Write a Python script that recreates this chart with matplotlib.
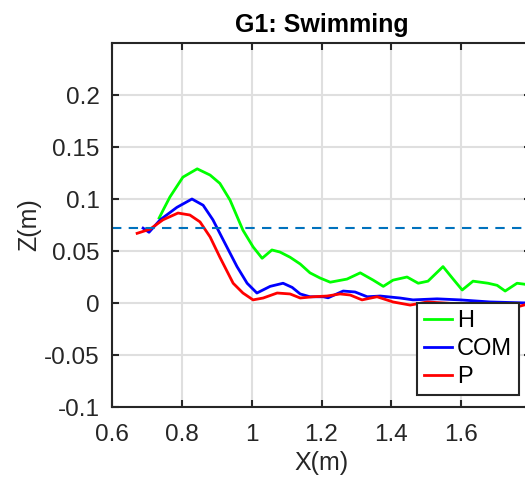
import matplotlib
matplotlib.use("Agg")
import matplotlib.pyplot as plt

plt.rcParams['font.family'] = ['Liberation Sans', 'DejaVu Sans']

# H (green)
h_x = [0.735, 0.749, 0.766, 0.803, 0.844, 0.881, 0.909, 0.938, 0.975, 1.004, 1.030, 1.058,
       1.081, 1.110, 1.139, 1.167, 1.196, 1.225, 1.273, 1.311, 1.348, 1.377, 1.405, 1.445,
       1.477, 1.505, 1.548, 1.577, 1.603, 1.634, 1.677, 1.703, 1.726, 1.760, 1.783, 1.800]
h_z = [0.0817, 0.091, 0.102, 0.121, 0.129, 0.123, 0.115, 0.099, 0.070, 0.054, 0.043, 0.051,
       0.049, 0.044, 0.0375, 0.029, 0.024, 0.020, 0.023, 0.029, 0.022, 0.016, 0.022, 0.025,
       0.019, 0.021, 0.035, 0.023, 0.0125, 0.021, 0.019, 0.017, 0.0115, 0.019, 0.018, 0.015]

# COM (blue)
com_x = [0.689, 0.706, 0.738, 0.786, 0.829, 0.861, 0.889, 0.918, 0.958, 0.987, 1.015, 1.053,
         1.090, 1.116, 1.139, 1.167, 1.205, 1.219, 1.262, 1.296, 1.331, 1.368, 1.425, 1.462,
         1.531, 1.597, 1.683, 1.790]
com_z = [0.072, 0.068, 0.080, 0.092, 0.100, 0.094, 0.080, 0.061, 0.035, 0.019, 0.0096, 0.016,
         0.019, 0.015, 0.0087, 0.006, 0.006, 0.005, 0.0115, 0.0106, 0.006, 0.0067, 0.0048, 0.003,
         0.004, 0.003, 0.001, 0.000]

# P (red)
p_x = [0.672, 0.709, 0.746, 0.789, 0.823, 0.852, 0.881, 0.909, 0.947, 0.975, 1.004, 1.033,
       1.073, 1.110, 1.139, 1.176, 1.216, 1.253, 1.282, 1.316, 1.359, 1.405, 1.454, 1.503,
       1.600, 1.700, 1.769, 1.790]
p_z = [0.067, 0.071, 0.080, 0.0865, 0.0846, 0.078, 0.0635, 0.044, 0.019, 0.0096, 0.003, 0.0048,
       0.0096, 0.0087, 0.0048, 0.006, 0.0067, 0.0087, 0.0077, 0.003, 0.006, 0.001, -0.002, 0.001,
       -0.001, -0.003, -0.003, -0.001]

threshold = 0.072
x_ticks = [0.6, 0.8, 1.0, 1.2, 1.4, 1.6]
y_ticks = [-0.1, -0.05, 0, 0.05, 0.1, 0.15, 0.2]
x_ticklabels = ['0.6', '0.8', '1', '1.2', '1.4', '1.6']
y_ticklabels = ['-0.1', '-0.05', '0', '0.05', '0.1', '0.15', '0.2']

W, H = 525, 480
fig = plt.figure(figsize=(W / 100, H / 100), dpi=100)
ax = fig.add_axes([112 / W, (H - 407) / H, 419 / W, 364 / H])

ax.plot(h_x, h_z, color=(0, 1, 0), lw=2, label='H')
ax.plot(com_x, com_z, color=(0, 0, 1), lw=2, label='COM')
ax.plot(p_x, p_z, color=(1, 0, 0), lw=2, label='P')
ax.axhline(threshold, color='#0072BD', lw=1.5, linestyle=(0, (4.5, 3.5)))

ax.set_xlim(0.6, 1.8)
ax.set_ylim(-0.1, 0.25)
ax.set_xticks(x_ticks)
ax.set_xticklabels(x_ticklabels)
ax.set_yticks(y_ticks)
ax.set_yticklabels(y_ticklabels)
ax.grid(True, color='#dfdfdf', lw=1.5)
ax.set_axisbelow(True)
ax.tick_params(direction='in', length=5, width=1.5, colors='#262626', labelsize=17.5,
               top=True, right=True, labelcolor='#262626')
ax.tick_params(axis='x', pad=12)
ax.tick_params(axis='y', pad=9)
for s in ax.spines.values():
    s.set_color('#262626')
    s.set_linewidth(1.5)

ax.set_xlabel('X(m)', fontsize=18, color='#262626', labelpad=4)
ax.set_ylabel('Z(m)', fontsize=18, color='#262626', labelpad=2)
ax.set_title('G1: Swimming', fontsize=18, fontweight='bold', pad=8)

leg = ax.legend(loc='lower right', bbox_to_anchor=(519 / W, (H - 395) / H),
                bbox_transform=fig.transFigure, borderaxespad=0, fontsize=17,
                fancybox=False, framealpha=1, edgecolor='#262626', handlelength=1.2,
                handletextpad=0.2, labelspacing=0.25, borderpad=0.3)
leg.get_frame().set_linewidth(1.5)

fig.savefig('out.png', dpi=100)
